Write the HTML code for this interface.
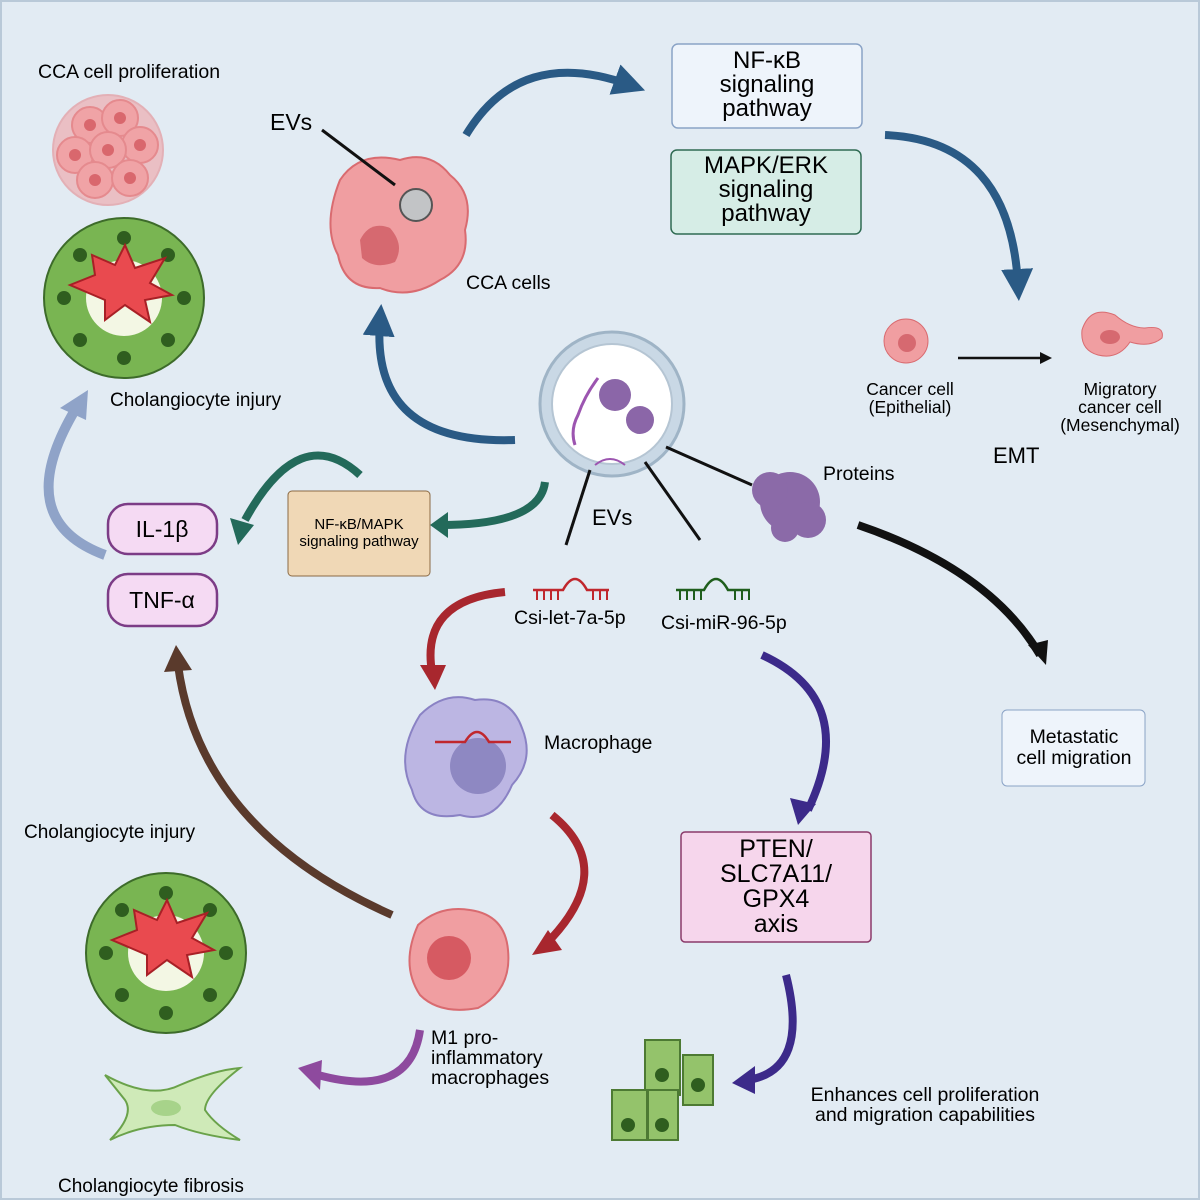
<!DOCTYPE html>
<html><head><meta charset="utf-8"><style>
body{margin:0;background:#fff}
svg{display:block;font-family:"Liberation Sans",Arial,sans-serif}
</style></head><body>
<svg width="1200" height="1200" viewBox="0 0 1200 1200" xmlns="http://www.w3.org/2000/svg">
<defs>
<marker id="mb" markerWidth="4" markerHeight="4" refX="2" refY="2" orient="auto"><path d="M0,0L4,2L0,4z" fill="#2a5a85"/></marker>
</defs>
<rect x="1" y="1" width="1198" height="1198" fill="#e2ebf3" stroke="#b9c9d8" stroke-width="2"/>

<text x="38" y="78" font-size="19.5">CCA cell proliferation</text>
<g fill="#f0a3a6" stroke="#e58a8e" stroke-width="2">
<circle cx="108" cy="150" r="55" opacity=".6"/>
<circle cx="90" cy="125" r="18"/><circle cx="120" cy="118" r="18"/><circle cx="140" cy="145" r="18"/>
<circle cx="75" cy="155" r="18"/><circle cx="108" cy="150" r="18"/><circle cx="95" cy="180" r="18"/><circle cx="130" cy="178" r="18"/>
</g>
<g fill="#d9676d"><circle cx="90" cy="125" r="6"/><circle cx="120" cy="118" r="6"/><circle cx="140" cy="145" r="6"/><circle cx="75" cy="155" r="6"/><circle cx="108" cy="150" r="6"/><circle cx="95" cy="180" r="6"/><circle cx="130" cy="178" r="6"/></g>

<g>
<circle cx="124" cy="298" r="80" fill="#79b552" stroke="#3d6b2a" stroke-width="2"/>
<circle cx="124" cy="298" r="38" fill="#f3f7e4"/>
<g fill="#2f5e1f"><circle cx="124" cy="238" r="7"/><circle cx="168" cy="255" r="7"/><circle cx="184" cy="298" r="7"/><circle cx="168" cy="340" r="7"/><circle cx="124" cy="358" r="7"/><circle cx="80" cy="340" r="7"/><circle cx="64" cy="298" r="7"/><circle cx="80" cy="255" r="7"/></g>
<polygon points="70,285 95,275 92,255 115,265 125,245 135,268 165,258 150,283 172,295 145,300 150,322 125,305 105,320 105,300" fill="#e94a4f" stroke="#a82026" stroke-width="2"/>
</g>
<text x="110" y="406" font-size="19">Cholangiocyte injury</text>

<path d="M340,180 Q360,150 400,160 Q430,150 450,175 Q475,195 465,230 Q470,265 440,280 Q410,300 380,288 Q345,290 338,255 Q322,225 340,180z" fill="#f09ea1" stroke="#d96b70" stroke-width="2"/>
<circle cx="416" cy="205" r="16" fill="#c2c4c6" stroke="#555" stroke-width="2"/>
<path d="M360,240 Q370,220 390,228 Q405,245 395,262 Q375,270 362,258z" fill="#d66970"/>
<line x1="322" y1="130" x2="395" y2="185" stroke="#111" stroke-width="3"/>
<text x="270" y="130" font-size="23">EVs</text>
<text x="466" y="289" font-size="19.5">CCA cells</text>

<path d="M466,135 Q520,45 630,85" fill="none" stroke="#2a5a85" stroke-width="8" marker-end="url(#mb)"/>
<path d="M885,135 Q1010,140 1018,285" fill="none" stroke="#2a5a85" stroke-width="8" marker-end="url(#mb)"/>
<path d="M515,440 Q370,445 380,320" fill="none" stroke="#2a5a85" stroke-width="8" marker-end="url(#mb)"/>

<rect x="672" y="44" width="190" height="84" rx="6" fill="#eef4fb" stroke="#8aa3c6" stroke-width="1.5"/>
<text font-size="24" text-anchor="middle"><tspan x="767" y="68">NF-κB</tspan><tspan x="767" y="92">signaling</tspan><tspan x="767" y="116">pathway</tspan></text>
<rect x="671" y="150" width="190" height="84" rx="6" fill="#d6ede6" stroke="#2f6b52" stroke-width="1.5"/>
<text font-size="24" text-anchor="middle"><tspan x="766" y="173">MAPK/ERK</tspan><tspan x="766" y="197">signaling</tspan><tspan x="766" y="221">pathway</tspan></text>

<circle cx="906" cy="341" r="22" fill="#f09ea1" stroke="#d96b70"/><circle cx="907" cy="343" r="9" fill="#d66970"/>
<path d="M1082,330 Q1090,305 1115,315 Q1130,328 1145,328 Q1165,325 1162,338 Q1150,348 1130,342 Q1118,360 1098,355 Q1080,350 1082,330z" fill="#f09ea1" stroke="#d96b70"/>
<ellipse cx="1110" cy="337" rx="10" ry="7" fill="#d66970"/>
<line x1="958" y1="358" x2="1042" y2="358" stroke="#111" stroke-width="2.5"/><polygon points="1052,358 1040,352 1040,364" fill="#111"/>
<text font-size="17.5" text-anchor="middle"><tspan x="910" y="395">Cancer cell</tspan><tspan x="910" y="413">(Epithelial)</tspan></text>
<text font-size="17.5" text-anchor="middle"><tspan x="1120" y="395">Migratory</tspan><tspan x="1120" y="413">cancer cell</tspan><tspan x="1120" y="431">(Mesenchymal)</tspan></text>
<text x="993" y="463" font-size="22">EMT</text>

<circle cx="612" cy="404" r="72" fill="#c9d8e5" stroke="#9fb4c6" stroke-width="3"/>
<circle cx="612" cy="404" r="60" fill="#fff" stroke="#b5c5d3" stroke-width="2"/>
<path d="M598,378 Q585,395 578,415 Q570,430 575,445" fill="none" stroke="#9c55b0" stroke-width="3"/>
<circle cx="615" cy="395" r="16" fill="#8b66a8"/><circle cx="640" cy="420" r="14" fill="#8b66a8"/>
<path d="M595,465 q15,-12 30,0" fill="none" stroke="#9c55b0" stroke-width="2"/>
<text x="592" y="525" font-size="22">EVs</text>
<line x1="590" y1="470" x2="566" y2="545" stroke="#111" stroke-width="3"/>
<line x1="645" y1="462" x2="700" y2="540" stroke="#111" stroke-width="3"/>
<line x1="666" y1="447" x2="752" y2="485" stroke="#111" stroke-width="3"/>

<g fill="#8b6aa8"><circle cx="790" cy="502" r="30"/><circle cx="770" cy="490" r="18"/><circle cx="808" cy="520" r="18"/><circle cx="785" cy="528" r="14"/></g>
<text x="823" y="480" font-size="19.5">Proteins</text>
<path d="M858,525 Q990,570 1040,655" fill="none" stroke="#111" stroke-width="8"/><polygon points="1046,665 1028,645 1048,640" fill="#111"/>
<rect x="1002" y="710" width="143" height="76" rx="5" fill="#eef4fb" stroke="#8aa3c6"/>
<text font-size="19.5" text-anchor="middle"><tspan x="1074" y="743">Metastatic</tspan><tspan x="1074" y="764">cell migration</tspan></text>

<path d="M545,482 Q540,525 440,525" fill="none" stroke="#236a5a" stroke-width="8"/><polygon points="430,525 448,512 448,538" fill="#236a5a"/>
<rect x="288" y="491" width="142" height="85" rx="4" fill="#f0d8b6" stroke="#8b6a44"/>
<text font-size="15" text-anchor="middle"><tspan x="359" y="529">NF-κB/MAPK</tspan><tspan x="359" y="546">signaling pathway</tspan></text>
<path d="M360,475 Q300,420 245,520" fill="none" stroke="#236a5a" stroke-width="8"/><polygon points="238,545 230,518 254,525" fill="#236a5a"/>

<rect x="108" y="504" width="109" height="50" rx="20" fill="#f5daf3" stroke="#7c3c86" stroke-width="2.5"/>
<text x="162" y="537" font-size="23" text-anchor="middle">IL-1β</text>
<rect x="108" y="574" width="109" height="52" rx="20" fill="#f5daf3" stroke="#7c3c86" stroke-width="2.5"/>
<text x="162" y="608" font-size="23" text-anchor="middle">TNF-α</text>
<path d="M105,555 Q10,520 75,410" fill="none" stroke="#8fa3c8" stroke-width="10"/><polygon points="88,390 60,408 86,420" fill="#8fa3c8"/>

<path d="M533,590 h30 q12,-22 24,0 h22" fill="none" stroke="#c0272d" stroke-width="2.5"/>
<g stroke="#c0272d" stroke-width="2"><line x1="537" y1="590" x2="537" y2="600"/><line x1="544" y1="590" x2="544" y2="600"/><line x1="551" y1="590" x2="551" y2="600"/><line x1="558" y1="590" x2="558" y2="600"/><line x1="593" y1="590" x2="593" y2="600"/><line x1="600" y1="590" x2="600" y2="600"/><line x1="607" y1="590" x2="607" y2="600"/></g>
<text x="514" y="624" font-size="19.5">Csi-let-7a-5p</text>
<path d="M676,590 h28 q12,-22 24,0 h22" fill="none" stroke="#1f5e1c" stroke-width="2.5"/>
<g stroke="#1f5e1c" stroke-width="2"><line x1="680" y1="590" x2="680" y2="600"/><line x1="687" y1="590" x2="687" y2="600"/><line x1="694" y1="590" x2="694" y2="600"/><line x1="701" y1="590" x2="701" y2="600"/><line x1="735" y1="590" x2="735" y2="600"/><line x1="742" y1="590" x2="742" y2="600"/><line x1="749" y1="590" x2="749" y2="600"/></g>
<text x="661" y="629" font-size="19.5">Csi-miR-96-5p</text>

<path d="M505,592 Q420,600 432,672" fill="none" stroke="#a8272e" stroke-width="8"/><polygon points="435,690 420,665 446,665" fill="#a8272e"/>
<path d="M420,715 Q445,690 475,700 Q510,695 522,728 Q535,760 512,785 Q495,825 460,815 Q420,822 412,790 Q395,755 420,715z" fill="#bcb6e3" stroke="#8a82c4" stroke-width="2"/>
<circle cx="478" cy="766" r="28" fill="#8e88c2"/>
<path d="M435,742 h30 q12,-20 24,0 h22" fill="none" stroke="#c0272d" stroke-width="2.5"/>
<text x="544" y="749" font-size="19.5">Macrophage</text>
<path d="M552,815 Q620,870 545,945" fill="none" stroke="#a8272e" stroke-width="8"/><polygon points="532,955 548,930 562,950" fill="#a8272e"/>

<path d="M418,925 Q440,905 470,910 Q505,915 508,950 Q512,990 478,1008 Q440,1015 420,995 Q400,965 418,925z" fill="#f09ea1" stroke="#d96b70" stroke-width="2"/>
<circle cx="449" cy="958" r="22" fill="#d65a62"/>
<text font-size="19.5"><tspan x="431" y="1044">M1 pro-</tspan><tspan x="431" y="1064">inflammatory</tspan><tspan x="431" y="1084">macrophages</tspan></text>
<path d="M392,915 Q200,830 178,665" fill="none" stroke="#5a3a2c" stroke-width="8"/><polygon points="176,645 164,672 192,670" fill="#5a3a2c"/>
<path d="M420,1030 Q410,1100 318,1075" fill="none" stroke="#8e4a9e" stroke-width="8"/><polygon points="298,1068 322,1060 320,1090" fill="#8e4a9e"/>

<text x="24" y="838" font-size="19">Cholangiocyte injury</text>
<circle cx="166" cy="953" r="80" fill="#79b552" stroke="#3d6b2a" stroke-width="2"/>
<circle cx="166" cy="953" r="38" fill="#f3f7e4"/>
<g fill="#2f5e1f"><circle cx="166" cy="893" r="7"/><circle cx="210" cy="910" r="7"/><circle cx="226" cy="953" r="7"/><circle cx="210" cy="995" r="7"/><circle cx="166" cy="1013" r="7"/><circle cx="122" cy="995" r="7"/><circle cx="106" cy="953" r="7"/><circle cx="122" cy="910" r="7"/></g>
<polygon points="112,940 137,930 134,910 157,920 167,900 177,923 207,913 192,938 214,950 187,955 192,977 167,960 147,975 147,955" fill="#e94a4f" stroke="#a82026" stroke-width="2"/>
<path d="M105,1075 Q150,1100 180,1085 Q215,1070 240,1068 Q205,1095 205,1110 Q215,1125 240,1140 Q200,1135 175,1125 Q140,1125 110,1140 Q135,1115 125,1100z" fill="#cfeab8" stroke="#6aa24a" stroke-width="2"/>
<ellipse cx="166" cy="1108" rx="15" ry="8" fill="#a7d38a"/>
<text x="58" y="1192" font-size="19">Cholangiocyte fibrosis</text>

<path d="M762,655 Q860,700 808,810" fill="none" stroke="#3c2a8a" stroke-width="8"/><polygon points="798,825 790,798 816,804" fill="#3c2a8a"/>
<rect x="681" y="832" width="190" height="110" rx="4" fill="#f6d6ec" stroke="#8a3a6a" stroke-width="1.5"/>
<text font-size="25" text-anchor="middle"><tspan x="776" y="857">PTEN/</tspan><tspan x="776" y="882">SLC7A11/</tspan><tspan x="776" y="907">GPX4</tspan><tspan x="776" y="932">axis</tspan></text>
<path d="M786,975 Q810,1070 748,1080" fill="none" stroke="#3c2a8a" stroke-width="8"/><polygon points="732,1083 755,1066 755,1094" fill="#3c2a8a"/>
<g fill="#94c36b" stroke="#4d7a33" stroke-width="2">
<rect x="645" y="1040" width="35" height="55"/><rect x="683" y="1055" width="30" height="50"/>
<rect x="612" y="1090" width="35" height="50"/><rect x="648" y="1090" width="30" height="50"/>
</g>
<g fill="#2f5e1f"><circle cx="662" cy="1075" r="7"/><circle cx="698" cy="1085" r="7"/><circle cx="628" cy="1125" r="7"/><circle cx="662" cy="1125" r="7"/></g>
<text font-size="19.5" text-anchor="middle"><tspan x="925" y="1101">Enhances cell proliferation</tspan><tspan x="925" y="1121">and migration capabilities</tspan></text>
</svg>
</body></html>
